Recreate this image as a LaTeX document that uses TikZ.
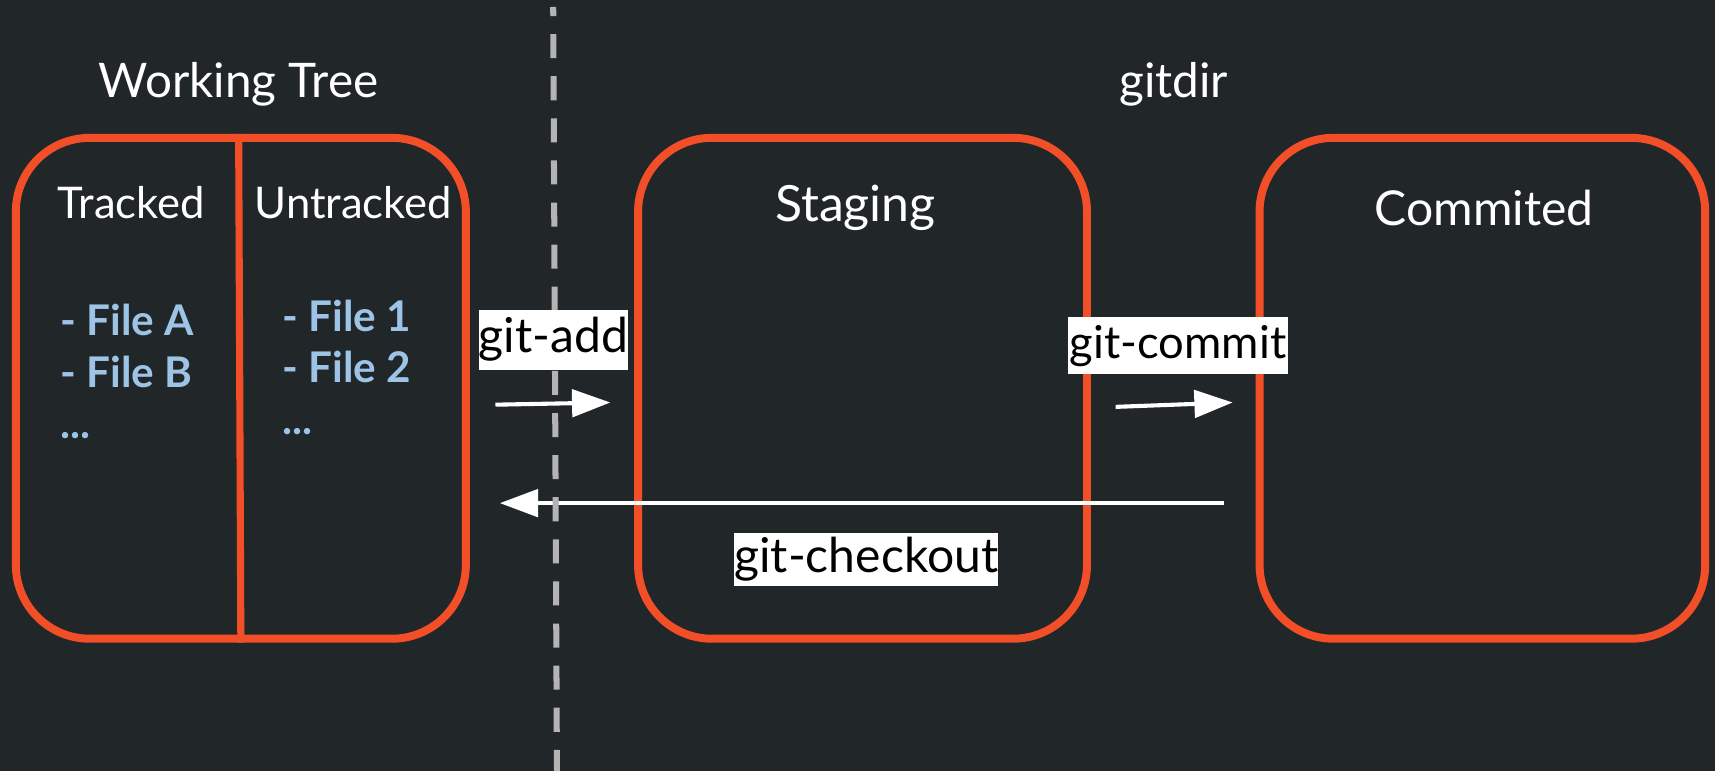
\documentclass[tikz,border=0pt]{standalone}
\usepackage{fontspec}
\setmainfont{Lato}
\usetikzlibrary{arrows.meta,calc}
\definecolor{bgc}{HTML}{212729}
\definecolor{gitor}{HTML}{F24E27}
\definecolor{fileblue}{HTML}{9DC3E6}
\definecolor{dashgray}{HTML}{B4B4B4}
\begin{document}
\begin{tikzpicture}[x=0.02cm,y=-0.02cm,
  area/.style={draw=gitor,line width=0.146cm,rounded corners=1.35cm,minimum width=#1,minimum height=9.16cm,inner sep=0pt},
  title/.style={text=white,font=\fontsize{24.8}{28}\selectfont},
  sub/.style={text=white,font=\fontsize{22.7}{26}\selectfont},
  heading/.style={text=white,font=\fontsize{#1}{30}\selectfont},
  fileitem/.style={text=fileblue,font=\bfseries\fontsize{22}{27}\selectfont,anchor=base west,inner sep=0pt},
  flow/.style={draw=white,line width=0.075cm,-{Triangle[length=0.7cm,width=0.5cm]}},
  cmdlabel/.style={fill=white,text=black,inner sep=0pt,minimum width=#1},
]
\useasboundingbox[fill=bgc] (0,0) rectangle (1568,705);
% boxes
\node[area=8.23cm] (wt) at (220.2,355) {};
\node[area=8.21cm] (stg) at (788.6,355) {};
\node[area=8.15cm] (cmt) at (1355.3,355) {};
\draw[draw=gitor,line width=0.13cm] ($(wt.north)+(-2,0)$) coordinate (dtop) -- (wt.south) coordinate (dbot);
% titles
\node[title] (twt) at (218,77) {Working Tree};
\node[title] (tgd) at (1073,77) {gitdir};
\node[sub] (ttr) at (120,185) {Tracked};
\node[sub] (tun) at (323,185) {Untracked};
\node[heading=26] (tst) at (782,190) {Staging};
\node[heading=25] (tcm) at (1357,190) {Commited};
% files
\node[fileitem] (fa) at (55,307) {- File A};
\node[fileitem] (fb) at (55,354) {- File B};
\node[fileitem] (fd) at (55,401) {...};
\node[fileitem] (f1) at (258,303) {- File 1};
\node[fileitem] (f2) at (258,350) {- File 2};
\node[fileitem] (f3) at (258,397) {...};
% arrows
\coordinate (a1) at (453,370);
\coordinate (a2) at (558,368);
\coordinate (c1) at (1020,372);
\coordinate (c2) at (1127,368);
\coordinate (k1) at (1119,460);
\coordinate (k2) at (457,460);
\draw[flow] (a1) -- (a2);
\draw[flow] (c1) -- (c2);
\draw[flow] (k1) -- (k2);
% dashed separator
\coordinate (s1) at (505.8,6.4);
\coordinate (s2) at (509.2,705);
\draw[dashgray,line width=0.11cm,dash pattern=on 0.44cm off 0.33cm,dash phase=0.274cm] (s1) -- (s2);
% labels
\node[cmdlabel=2.72cm,minimum height=1.1cm,font=\fontsize{25}{30}\selectfont] (ladd) at (506,310.5) {git-add};
\node[cmdlabel=4.04cm,minimum height=1.04cm,font=\fontsize{23.6}{30}\selectfont] (lcm) at (1077,316) {git-commit};
\node[cmdlabel=4.8cm,minimum height=0.98cm,font=\fontsize{25}{30}\selectfont] (lco) at (792,511.5) {git-checkout};
\end{tikzpicture}
\end{document}
